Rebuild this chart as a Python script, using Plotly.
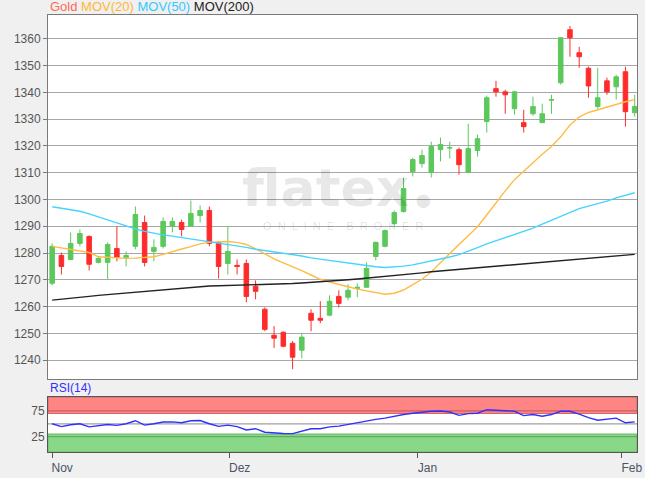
import plotly.graph_objects as go

# ---------------- data ----------------
candle_idx = list(range(64))

opens = [1268.7, 1279.1, 1277.6, 1283.6, 1286.2, 1276.5, 1276.5, 1281.7, 1278.4, 1282.5,
         1291.4, 1280.6, 1282.5, 1290.0, 1291.4, 1290.0, 1294.0, 1295.9, 1284.0, 1276.1,
         1275.4, 1276.1, 1267.6, 1259.0, 1249.3, 1250.4, 1246.3, 1243.7, 1257.5, 1255.6,
         1256.8, 1263.8, 1263.5, 1266.8, 1267.2, 1278.7, 1282.5, 1291.0, 1295.5, 1310.4,
         1313.4, 1310.1, 1318.6, 1319.2, 1318.6, 1310.1, 1318.3, 1329.1, 1341.4, 1340.2,
         1333.9, 1328.7, 1332.0, 1328.7, 1337.1, 1343.6, 1363.4, 1354.8, 1349.0, 1334.7,
         1344.3, 1342.1, 1347.7, 1332.4]
highs = [1283.6, 1280.2, 1287.7, 1288.8, 1286.6, 1278.7, 1284.0, 1289.9, 1280.6, 1297.4,
         1294.0, 1285.1, 1293.3, 1293.3, 1292.5, 1299.6, 1297.8, 1297.4, 1284.3, 1290.0,
         1277.6, 1277.6, 1269.8, 1259.7, 1252.7, 1250.8, 1247.1, 1250.0, 1259.0, 1262.0,
         1264.2, 1266.1, 1268.3, 1268.7, 1276.5, 1284.3, 1288.8, 1295.9, 1308.2, 1315.6,
         1318.6, 1321.6, 1323.1, 1321.6, 1319.4, 1328.3, 1324.2, 1338.8, 1344.3, 1341.0,
         1340.6, 1333.5, 1338.4, 1335.8, 1339.1, 1360.7, 1364.8, 1357.0, 1349.6, 1349.2,
         1345.5, 1346.6, 1349.6, 1339.1]
lows = [1267.9, 1272.0, 1277.3, 1282.5, 1273.5, 1276.1, 1270.2, 1276.9, 1275.0, 1281.4,
        1275.0, 1276.9, 1281.7, 1287.7, 1286.2, 1290.0, 1291.4, 1282.5, 1270.5, 1272.0,
        1272.0, 1261.6, 1262.7, 1250.8, 1244.5, 1244.8, 1236.6, 1240.7, 1250.8, 1253.8,
        1256.4, 1259.7, 1262.3, 1263.5, 1267.2, 1277.3, 1282.1, 1289.6, 1295.1, 1308.6,
        1311.9, 1308.2, 1314.2, 1315.3, 1309.3, 1310.1, 1316.0, 1325.0, 1338.4, 1332.0,
        1331.7, 1325.0, 1331.3, 1328.7, 1332.0, 1342.9, 1353.3, 1349.2, 1338.0, 1333.9,
        1339.1, 1337.3, 1327.2, 1330.9]
closes = [1282.5, 1275.0, 1283.6, 1287.3, 1275.8, 1278.0, 1283.2, 1278.4, 1279.1, 1294.4,
          1276.5, 1282.1, 1291.8, 1291.8, 1288.8, 1294.8, 1295.9, 1283.6, 1275.0, 1280.6,
          1275.0, 1263.8, 1265.7, 1251.5, 1248.2, 1245.2, 1241.1, 1248.6, 1254.9, 1254.9,
          1262.0, 1261.2, 1266.1, 1267.2, 1274.3, 1284.0, 1288.4, 1295.1, 1304.1, 1314.9,
          1316.4, 1319.8, 1320.5, 1319.4, 1313.0, 1319.0, 1322.7, 1338.0, 1340.2, 1339.1,
          1340.2, 1327.2, 1334.7, 1332.0, 1337.3, 1360.4, 1360.4, 1353.3, 1342.4, 1338.0,
          1340.2, 1345.8, 1332.8, 1334.7]

mov20 = [1282.5, 1281.9, 1281.2, 1280.8, 1280.2, 1278.6, 1278.4, 1278.2, 1278.0, 1278.1,
         1278.3, 1278.6, 1279.5, 1280.6, 1281.5, 1282.4, 1283.4, 1284.0, 1284.2, 1284.3,
         1284.0, 1283.2, 1281.6, 1279.6, 1277.8, 1276.3, 1275.0, 1273.4, 1271.8, 1270.2,
         1269.2, 1268.4, 1267.4, 1266.5, 1265.8, 1265.3, 1264.6, 1265.0, 1266.2, 1268.2,
         1270.2, 1273.0, 1276.6, 1279.8, 1283.2, 1286.4, 1289.8, 1294.2, 1298.8, 1303.2,
         1307.4, 1310.6, 1313.8, 1316.9, 1319.8, 1323.4, 1327.8, 1330.8, 1332.5, 1333.5,
         1334.6, 1335.6, 1336.5, 1337.3]
mov50 = [1297.3, 1296.8, 1296.3, 1295.6, 1294.6, 1293.5, 1292.2, 1291.0, 1290.0, 1289.0,
         1288.1, 1287.4, 1286.8, 1286.3, 1285.8, 1285.3, 1284.6, 1284.1, 1283.6, 1283.1,
         1282.6, 1282.1, 1281.4, 1280.9, 1280.4, 1279.9, 1279.5, 1278.9, 1278.2, 1277.7,
         1277.2, 1276.8, 1276.2, 1275.7, 1275.3, 1274.9, 1274.6, 1274.8, 1275.1, 1275.6,
         1276.3, 1276.9, 1277.6, 1278.5, 1279.4, 1280.6, 1282.0, 1283.4, 1284.6, 1285.8,
         1286.9, 1288.0, 1289.3, 1290.8, 1292.3, 1293.8, 1295.2, 1296.6, 1297.5, 1298.4,
         1299.4, 1300.6, 1301.6, 1302.5]
mov200 = [1262.4, 1262.7, 1263.0, 1263.4, 1263.8, 1264.2, 1264.5, 1264.8, 1265.1, 1265.4,
          1265.7, 1266.0, 1266.3, 1266.6, 1266.9, 1267.2, 1267.5, 1267.7, 1267.8, 1267.9,
          1268.0, 1268.0, 1268.0, 1268.1, 1268.2, 1268.4, 1268.6, 1268.8, 1269.0, 1269.2,
          1269.4, 1269.7, 1270.0, 1270.3, 1270.6, 1270.9, 1271.3, 1271.7, 1272.0, 1272.3,
          1272.6, 1273.0, 1273.3, 1273.6, 1273.9, 1274.1, 1274.4, 1274.7, 1275.0, 1275.3,
          1275.6, 1275.9, 1276.2, 1276.5, 1276.8, 1277.0, 1277.3, 1277.6, 1277.9, 1278.2,
          1278.5, 1278.8, 1279.1, 1279.5]
rsi14 = [50, 44.5, 48, 50, 44, 46, 48.5, 47, 50, 56,
         47.5, 50, 53.5, 53.8, 52, 56, 56.4, 50, 45, 47.4,
         44.5, 38, 40.4, 33.5, 32, 31, 30.8, 35, 40.4, 40.4,
         44, 45.5, 49, 51.5, 55, 58.5, 61, 65, 68, 70.5,
         73, 74.4, 75, 73, 66.5, 69.9, 70.5, 77.5, 76.5, 75.5,
         74.4, 66, 68, 64.7, 68, 74.4, 74.4, 69, 62, 57,
         59.6, 61, 52, 53.8]

month_labels = ["Nov", "Dez", "Jan", "Feb"]
month_pos = [0, 19.2, 39.5, 61.6]
price_ticks = list(range(1240, 1361, 10))
rsi_ticks = [25, 75]
rsi_upper, rsi_lower, rsi_mid = 70, 30, 50

# ---------------- figure ----------------
FONT = "Liberation Sans, Arial, sans-serif"
fig = go.Figure()

fig.add_trace(go.Candlestick(
    x=candle_idx, open=opens, high=highs, low=lows, close=closes,
    increasing=dict(line=dict(color="#5cc85c", width=1), fillcolor="#5cc85c"),
    decreasing=dict(line=dict(color="#ff2b2b", width=1), fillcolor="#ff2b2b"),
    whiskerwidth=0, showlegend=False, hoverinfo="skip",
    xaxis="x", yaxis="y"))
fig.add_trace(go.Scatter(x=candle_idx, y=mov20, mode="lines",
                         line=dict(color="#ffbb44", width=1.4), showlegend=False))
fig.add_trace(go.Scatter(x=candle_idx, y=mov50, mode="lines",
                         line=dict(color="#44d4ff", width=1.4), showlegend=False))
fig.add_trace(go.Scatter(x=candle_idx, y=mov200, mode="lines",
                         line=dict(color="#222222", width=1.4), showlegend=False))
fig.add_trace(go.Scatter(x=candle_idx, y=rsi14, mode="lines",
                         line=dict(color="#3030ff", width=1.4), showlegend=False,
                         xaxis="x2", yaxis="y2"))

xr = [-0.45, 63.25]
fig.update_layout(
    width=645, height=478,
    margin=dict(l=48, r=3, t=15, b=25),
    paper_bgcolor="#f0f0f0", plot_bgcolor="#ffffff",
    font=dict(family=FONT, size=12, color="#555555"),
    xaxis=dict(domain=[0, 1], range=xr, anchor="y", showgrid=False, zeroline=False,
               showticklabels=False, showline=True, mirror=True, linecolor="#7a7a7a",
               rangeslider=dict(visible=False), fixedrange=True),
    yaxis=dict(domain=[0.1667, 1], range=[1232.9, 1368.9], tickvals=price_ticks,
               showgrid=True, gridcolor="#a8a8a8", gridwidth=1.3, zeroline=False,
               showline=True, mirror=True, linecolor="#7a7a7a",
               ticks="outside", ticklen=4, tickcolor="#7a7a7a",
               tickfont=dict(size=12, color="#555555")),
    xaxis2=dict(domain=[0, 1], range=xr, anchor="y2", matches="x", showgrid=False,
                zeroline=False, tickvals=month_pos, ticktext=month_labels,
                ticks="outside", ticklen=5, tickcolor="#555555",
                showline=True, mirror=True, linecolor="#555555",
                ticklabelshift=10, ticklabeloverflow="allow",
                tickfont=dict(size=12, color="#4a5566")),
    yaxis2=dict(domain=[0, 0.1256], range=[-5, 102], tickvals=rsi_ticks,
                showgrid=False, zeroline=False, showline=True, mirror=True,
                linecolor="#555555", ticks="", tickfont=dict(size=12, color="#555555")),
)

# RSI zones
fig.add_shape(type="rect", xref="x2 domain", yref="y2", x0=0, x1=1, y0=rsi_upper, y1=102,
              fillcolor="#ff8585", line=dict(color="#d06a6a", width=1), layer="below")
fig.add_shape(type="rect", xref="x2 domain", yref="y2", x0=0, x1=1, y0=-5, y1=rsi_lower,
              fillcolor="#88d888", line=dict(color="#66b866", width=1), layer="below")
for lvl, col in [(rsi_ticks[1], "#cc6060"), (rsi_ticks[0], "#5fae5f"), (rsi_mid, "#a0a0a0")]:
    fig.add_shape(type="line", xref="x2 domain", yref="y2", x0=0, x1=1, y0=lvl, y1=lvl,
                  line=dict(color=col, width=1.3), layer="below")

# header "legend"
fig.add_annotation(
    xref="paper", yref="paper", x=0, y=1, xanchor="left", yanchor="bottom", yshift=-1,
    showarrow=False, font=dict(family=FONT, size=13),
    text=("<span style='color:#ff6a55'>Gold</span> "
          "<span style='color:#ffb733'>MOV(20)</span> "
          "<span style='color:#33c8ff'>MOV(50)</span> "
          "<span style='color:#222222'>MOV(200)</span>"))
fig.add_annotation(
    xref="paper", yref="paper", x=0, y=0.1256, xanchor="left", yanchor="bottom", yshift=0,
    showarrow=False, font=dict(family=FONT, size=12, color="#3030ff"), text="RSI(14)")

# watermark
fig.add_annotation(xref="paper", yref="paper", x=0.49, y=0.605, xanchor="center",
                   yanchor="middle", showarrow=False,
                   font=dict(family="DejaVu Sans", size=52, color="rgba(0,0,0,0.09)",
                             weight="bold"),
                   text="flatex<span style='font-size:18px'> \u25cf</span>")
fig.add_annotation(xref="paper", yref="paper", x=0.50, y=0.518, xanchor="center",
                   yanchor="middle", showarrow=False,
                   font=dict(family=FONT, size=11, color="rgba(0,0,0,0.13)"),
                   text="O &nbsp;N &nbsp;L &nbsp;I &nbsp;N &nbsp;E &nbsp;&nbsp; B &nbsp;R &nbsp;O &nbsp;K &nbsp;E &nbsp;R")

fig.write_html("out.html", config={"displayModeBar": False},
               post_script="document.body.style.margin='0';document.body.style.overflow='hidden';")
